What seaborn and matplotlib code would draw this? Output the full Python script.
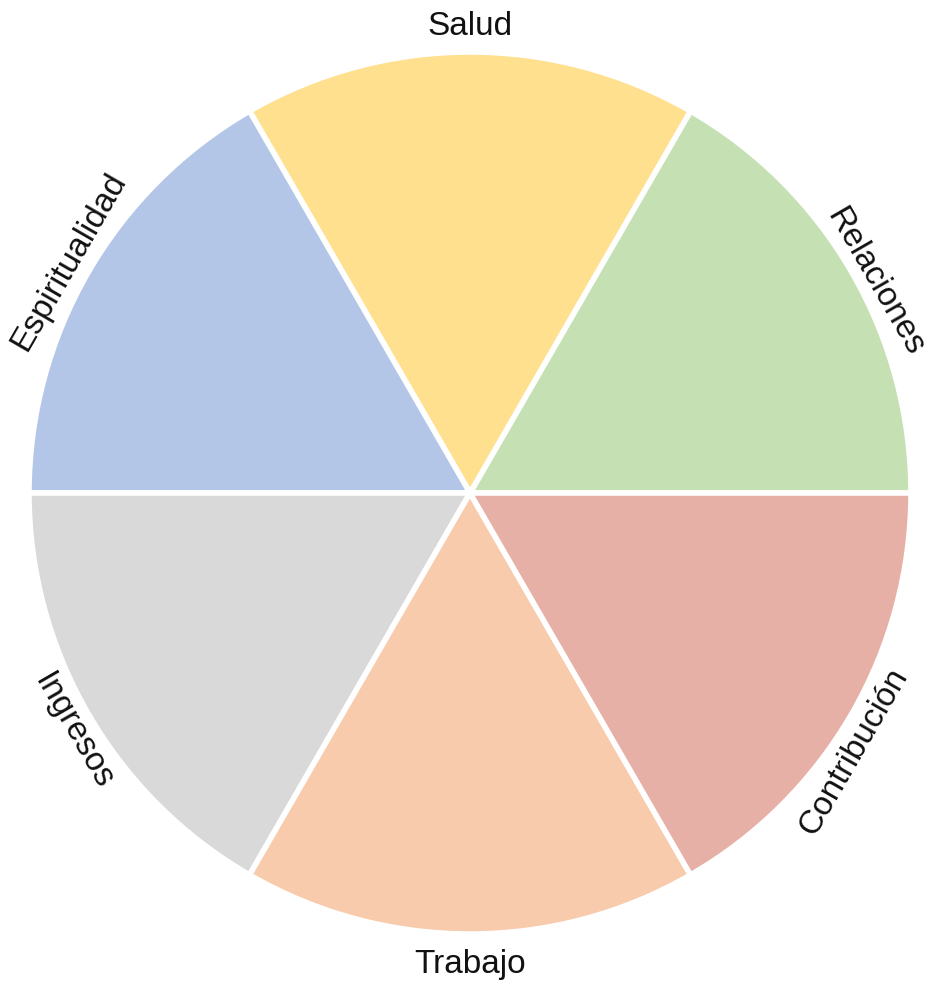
import numpy as np
import seaborn as sns
from matplotlib import pyplot as plt

# Wedges, counter-clockwise starting at 3 o'clock
areas = ['Relaciones', 'Salud', 'Espiritualidad', 'Ingresos', 'Trabajo', 'Contribución']
shares = [1, 1, 1, 1, 1, 1]
colors = ['#C5E0B3', '#FFE08F', '#B4C6E7', '#D9D9D9', '#F7CBAC', '#E6B0A7']

# small nudges so the labels sit like in the original
label_shift = [-2.5, 0, 0, 1, 0, -4]
label_r = [1.035, 1.057, 1.05, 1.05, 1.07, 1.05]

sns.set_theme(style='white')
plt.rcParams['font.family'] = ['Liberation Sans', 'DejaVu Sans']

fig = plt.figure(figsize=(9.31, 9.83), dpi=100)
ax = fig.add_axes([0, 0, 1, 1])

wedges, _ = ax.pie(shares, colors=colors, startangle=0, counterclock=True,
                   radius=1, wedgeprops=dict(edgecolor='white', linewidth=4))

# Text placed tangentially just outside each wedge
for w, name, da, r in zip(wedges, areas, label_shift, label_r):
    mid = (w.theta1 + w.theta2) / 2
    ang = mid + da
    x = r * np.cos(np.radians(ang))
    y = r * np.sin(np.radians(ang))
    rot = mid - 90 if mid < 180 else mid + 90
    ax.text(x, y, name, rotation=rot, rotation_mode='anchor',
            ha='center', va='center', fontsize=24, color='#111111')

R = 441.0
ax.set_xlim(-470 / R, (931 - 470) / R)
ax.set_ylim(-(983 - 493) / R, 493 / R)
ax.set_aspect('equal', adjustable='datalim')
ax.axis('off')

plt.savefig('out.png', dpi=100)
